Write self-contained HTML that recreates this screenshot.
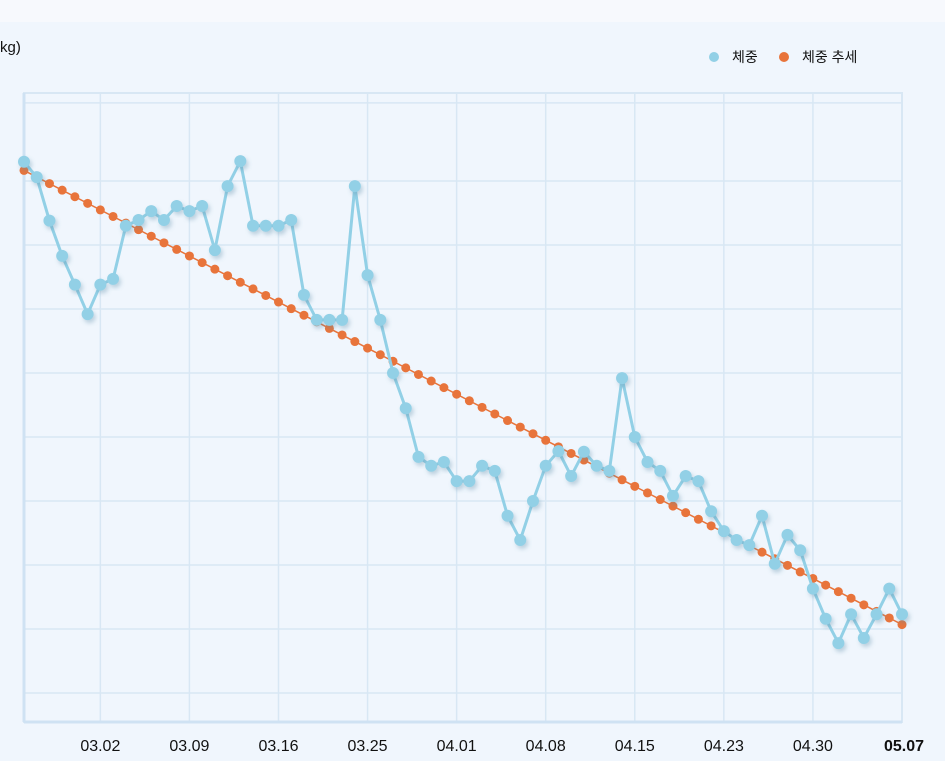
<!DOCTYPE html>
<html><head><meta charset="utf-8"><style>
html,body{margin:0;padding:0;background:#f7f9fd;}
#wrap{position:relative;width:945px;height:761px;overflow:hidden;}
svg{position:absolute;left:0;top:0;font-family:"Liberation Sans","Noto Sans CJK KR",sans-serif;}
</style></head><body>
<div id="wrap">
<svg id="chart" width="945" height="761">
<defs><filter id="sh" x="-50%" y="-50%" width="200%" height="200%"><feDropShadow dx="2" dy="3" stdDeviation="2" flood-color="#5a8aa6" flood-opacity="0.35"/></filter></defs>
<rect x="0" y="22" width="945" height="739" fill="#f0f6fd"/>
<text x="0" y="52" font-size="15" fill="#111">kg)</text>
<g>
<circle cx="714" cy="57" r="5" fill="#92d0e6"/>
<text x="732" y="62" font-size="14" fill="#111">체중</text>
<circle cx="784" cy="57" r="5" fill="#e8743b"/>
<text x="802" y="62" font-size="14" fill="#111">체중 추세</text>
</g>
<g id="grid"></g>
<g id="xlabels"></g>
<g id="trend"></g>
<g id="weight"></g>
</svg>
</div>
<script>
const weights=[68.30,68.06,67.38,66.83,66.38,65.92,66.38,66.47,67.30,67.39,67.53,67.39,67.61,67.53,67.61,66.92,67.92,68.31,67.30,67.30,67.30,67.39,66.22,65.83,65.83,65.83,67.92,66.53,65.83,65.00,64.45,63.69,63.55,63.61,63.31,63.31,63.55,63.47,62.77,62.39,63.00,63.55,63.78,63.39,63.77,63.55,63.47,64.92,64.00,63.61,63.47,63.08,63.39,63.31,62.84,62.53,62.39,62.31,62.77,62.02,62.47,62.23,61.63,61.16,60.78,61.23,60.86,61.23,61.63,61.23];
const tickIndex=[6,13,20,27,34,41,48,55,62,69];
const tickLabels=["03.02","03.09","03.16","03.25","04.01","04.08","04.15","04.23","04.30","05.07"];
const gridValues=[60,61,62,63,64,65,66,67,68,69.22];

const NS="http://www.w3.org/2000/svg";
const X0=24,X1=902;
function xs(i){return X0+(X1-X0)*i/(weights.length-1);}
function ys(v){return 693-(v-60)*64;}
function mk(tag,attrs,parent){const e=document.createElementNS(NS,tag);for(const k in attrs)e.setAttribute(k,attrs[k]);parent.appendChild(e);return e;}

const grid=document.getElementById('grid');
let el=mk('rect',{x:X0,y:93,width:X1-X0,height:629,fill:'none',stroke:'#d8e7f4','stroke-width':2},grid);


gridValues.forEach(v=>{
  const g=mk('line',{x1:X0,x2:X1,y1:ys(v),y2:ys(v),stroke:'#d8e7f4','stroke-width':1.5},grid);
  
  
});
tickIndex.forEach(i=>{
  const g=mk('line',{x1:xs(i),x2:xs(i),y1:93,y2:722,stroke:'#d8e7f4','stroke-width':1.5},grid);
  
  
});
el=mk('line',{x1:X0,x2:X0,y1:93,y2:722,stroke:'#cfe2f3','stroke-width':3},grid);


el=mk('line',{x1:X0,x2:X1,y1:722,y2:722,stroke:'#cfe2f3','stroke-width':3},grid);



const xl=document.getElementById('xlabels');
tickIndex.forEach((i,k)=>{
  const last=k===tickIndex.length-1;
  const t=mk('text',{x:xs(i)+(last?2:0),y:751,'text-anchor':'middle','font-size':16,fill:'#111','font-weight':last?'bold':'normal'},xl);
  t.textContent=tickLabels[k];
  
  
});

// linear regression trend
const n=weights.length;let sx=0,sy=0,sxx=0,sxy=0;
weights.forEach((w,i)=>{sx+=i;sy+=w;sxx+=i*i;sxy+=i*w;});
const slope=(n*sxy-sx*sy)/(n*sxx-sx*sx),icpt=(sy-slope*sx)/n;
const tg=document.getElementById('trend');
el=mk('line',{x1:xs(0),y1:ys(icpt),x2:xs(n-1),y2:ys(icpt+slope*(n-1)),stroke:'#e8743b','stroke-width':1.5},tg);


for(let i=0;i<n;i++){
  const c=mk('circle',{cx:xs(i),cy:ys(icpt+slope*i),r:4.5,fill:'#e8743b'},tg);
  
  
}

const wg=document.getElementById('weight');
el=mk('polyline',{points:weights.map((w,i)=>xs(i)+','+ys(w)).join(' '),fill:'none',stroke:'#92d0e6','stroke-width':3,'stroke-linejoin':'round'},wg);


weights.forEach((w,i)=>{
  const c=mk('circle',{cx:xs(i),cy:ys(w),r:6,fill:'#92d0e6',filter:'url(#sh)'},wg);
  
  
});
</script>
</body></html>
